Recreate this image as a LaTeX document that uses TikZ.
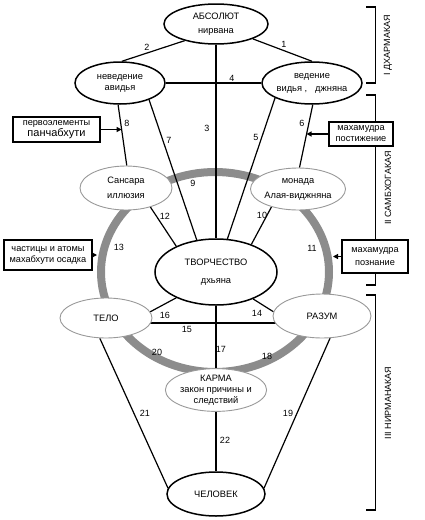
\documentclass[tikz,border=0pt]{standalone}
\usepackage{fontspec}
\setmainfont{Liberation Sans}
\usetikzlibrary{shapes.geometric,arrows.meta,backgrounds,calc}
\definecolor{ringgray}{gray}{0.55}
\definecolor{edgegray}{gray}{0.6}
\begin{document}
\begin{tikzpicture}[x=1pt,y=-1pt,
  ell/.style={ellipse,draw=black,line width=1.5pt,fill=white,inner sep=0pt,align=center,font=\fontsize{9.3}{11}\selectfont},
  gell/.style={ell,draw=edgegray,line width=0.9pt},
  conn/.style={line width=1.2pt},
  lbl/.style={font=\fontsize{9}{10}\selectfont,inner sep=0pt},
  box/.style={rectangle,draw,line width=1.5pt,fill=white,inner sep=0pt,align=center,font=\fontsize{9.2}{11}\selectfont},
  arr/.style={line width=1.2pt,-{Triangle[length=5pt,width=5pt]}},
  brk/.style={line width=1.5pt},
  side/.style={rotate=90,font=\fontsize{9}{10}\selectfont,inner sep=0pt}
]
\useasboundingbox (0,0) rectangle (424,520);

% nodes
\node[ell,minimum width=104pt,minimum height=40pt] (abs) at (216,24) {АБСОЛЮТ\\[3pt]нирвана};
\node[ell,minimum width=90pt,minimum height=42pt] (nev) at (120,83) {неведение\\авидья};
\node[ell,minimum width=98pt,minimum height=42pt] (ved) at (312,83) {ведение\\[2pt]видья ,\hspace{8pt}джняна};
\node[gell,minimum width=92pt,minimum height=44pt] (san) at (126,188) {Сансара\\[4pt]иллюзия};
\node[gell,minimum width=94pt,minimum height=42pt] (mon) at (298,189) {монада\\[4pt]Алая-виджняна};
\node[ell,minimum width=122pt,minimum height=66pt] (tv) at (216,272) {ТВОРЧЕСТВО\\[7pt]дхьяна};
\node[gell,minimum width=92pt,minimum height=40pt] (telo) at (106,318) {ТЕЛО};
\node[gell,minimum width=98pt,minimum height=44pt] (raz) at (322,316) {РАЗУМ};
\node[gell,minimum width=98pt,minimum height=42pt] (karma) at (216,390) {КАРМА\\закон причины и\\следствий};
\node[ell,minimum width=98pt,minimum height=44pt] (chel) at (216,494) {ЧЕЛОВЕК};

% ring and connectors behind the nodes
\begin{pgfonlayer}{background}
\node[ellipse,draw=ringgray,line width=8pt,minimum width=228pt,minimum height=200pt,inner sep=0pt] (ring) at (215,272) {};
\draw[conn] (abs.-22) -- (ved.90);
\draw[conn] (abs.-152) -- (nev.85);
\draw[conn] (abs.south) -- (tv.north);
\draw[conn] (nev.east) -- (ved.west);
\draw[conn] (ved.-158) -- (tv.71);
\draw[conn] (ved.-88) -- (mon.86);
\draw[conn] (nev.-30) -- (tv.121);
\draw[conn] (nev.-95) -- (san.88);
\draw[conn] (mon.-146) -- (tv.38);
\draw[conn] (san.-38) -- (tv.147);
\draw[conn] (tv.-36) -- (raz.175);
\coordinate (t15) at ([yshift=-5pt]telo.center);
\draw[conn] (t15) -- (t15 -| raz.center);
\draw[conn] (tv.-147) -- (telo.8);
\draw[conn] (tv.south) -- (karma.north);
\draw[conn] (raz.-70) -- (chel.7);
\draw[conn] (telo.-107) -- (chel.173);
\draw[conn] (karma.south) -- (chel.north);
\end{pgfonlayer}

% number labels
\node[lbl] (l1) at (284,44) {1};
\node[lbl] (l2) at (147,47) {2};
\node[lbl] (l3) at (207,128) {3};
\node[lbl] (l4) at (232,78) {4};
\node[lbl] (l5) at (256,137) {5};
\node[lbl] (l6) at (302,123) {6};
\node[lbl] (l7) at (169,140) {7};
\node[lbl] (l8) at (127,123) {8};
\node[lbl] (l9) at (193,183) {9};
\node[lbl] (l10) at (262,215) {10};
\node[lbl] (l11) at (312,248) {11};
\node[lbl] (l12) at (165,216) {12};
\node[lbl] (l13) at (119,247) {13};
\node[lbl] (l14) at (257,313) {14};
\node[lbl] (l15) at (187,329) {15};
\node[lbl] (l16) at (165,315) {16};
\node[lbl] (l17) at (221,349) {17};
\node[lbl] (l18) at (267,356) {18};
\node[lbl] (l19) at (288,413) {19};
\node[lbl] (l20) at (157,352) {20};
\node[lbl] (l21) at (145,413) {21};
\node[lbl] (l22) at (225,440) {22};

% brackets
\draw[brk] (366,7) -- (375.5,7) -- (375.5,83) -- (366,83);
\draw[brk] (366,95) -- (375.5,95) -- (375.5,285) -- (366,285);
\draw[brk] (366,295) -- (375.5,295) -- (375.5,510) -- (366,510);
\node[side] (s1) at (388,45) {I ДХАРМАКАЯ};
\node[side] (s2) at (388,188) {II САМБХОГАКАЯ};
\node[side] (s3) at (388,403) {III НИРМАНАКАЯ};

% boxes
\node[box,minimum width=87pt,minimum height=25pt] (b1) at (56.5,129.5) {первоэлементы\\{\fontsize{11}{12}\selectfont панчабхути}};
\node[box,minimum width=64pt,minimum height=24pt] (b2) at (361,134) {махамудра\\постижение};
\node[box,minimum width=88pt,minimum height=30pt] (b3) at (48,255) {частицы и атомы\\махабхути осадка};
\node[box,minimum width=66pt,minimum height=33pt] (b4) at (375,256.5) {махамудра\\[2pt]познание};

% arrows
\coordinate (t8) at ($(nev.-95)!0.41!(san.88)$);
\coordinate (t6) at ($(ved.-88)!0.47!(mon.86)$);
\draw[arr] (b1) -- (b1 -| t8);
\draw[arr] (b2) -- (b2 -| t6);
\draw[arr] (b3) -- (b3 -| ring.west);
\draw[arr] (b4) -- (b4 -| ring.east);
\end{tikzpicture}
\end{document}
